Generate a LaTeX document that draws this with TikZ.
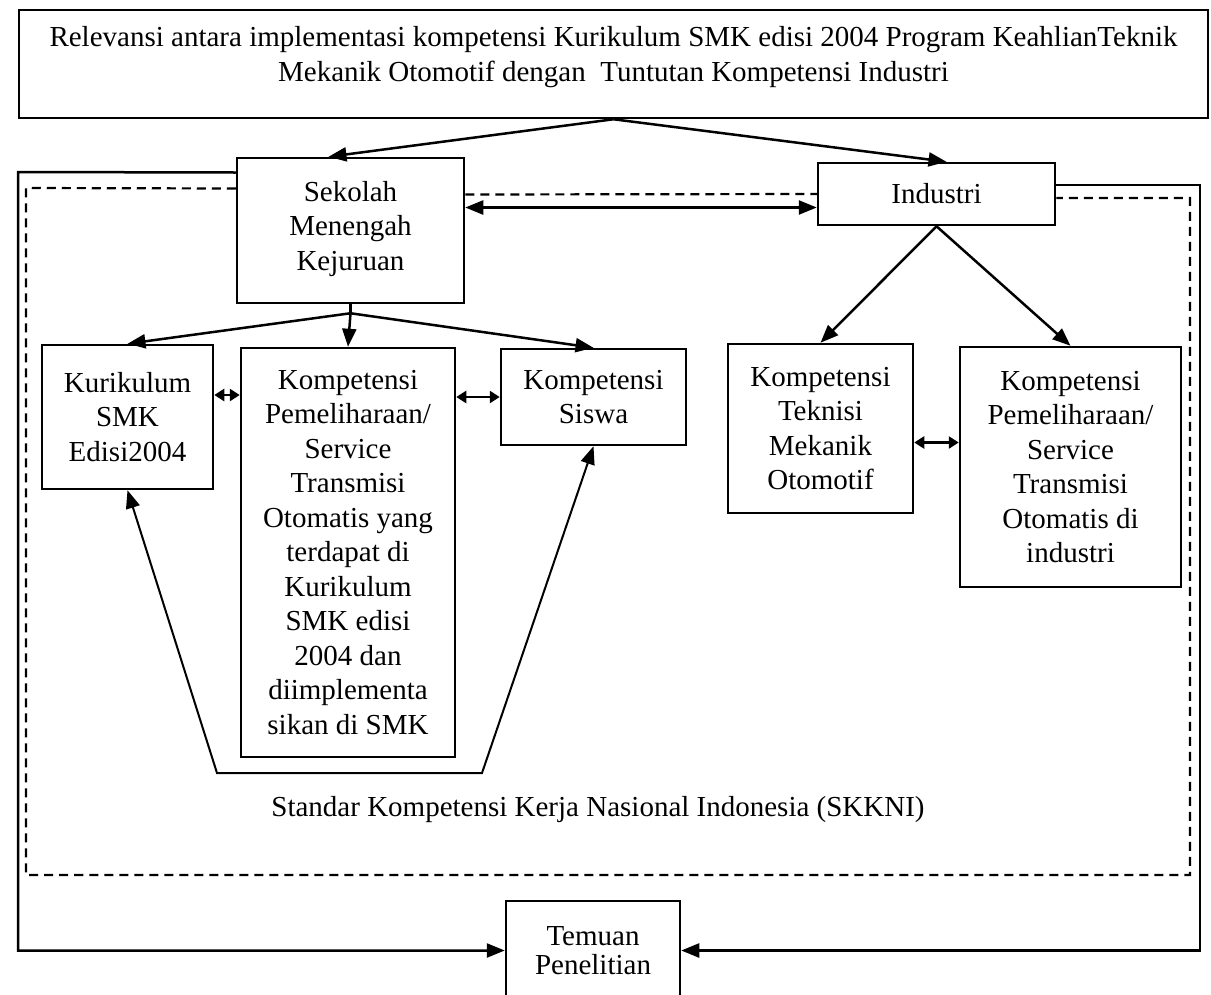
\documentclass[tikz,border=0pt]{standalone}
\usepackage{fontspec}
\setmainfont{Liberation Serif}
\usetikzlibrary{arrows.meta,calc}
\tikzset{
  kotak/.style={draw, line width=2.5pt, align=center, inner sep=0pt,
    font=\fontsize{29}{34.5}\selectfont},
  garis/.style={line width=2.5pt},
  putus/.style={line width=2.2pt, dash pattern=on 9pt off 6pt},
  pendek/.style={line width=2.5pt, {Triangle[length=10pt,width=12pt]}-{Triangle[length=10pt,width=12pt]}},
}

\begin{document}
\begin{tikzpicture}[x=1pt, y=-1pt, >={Triangle[length=18pt,width=14pt]}]
                \useasboundingbox (0,0) rectangle (1211,994);
                % kotak-kotak
                \node[kotak, minimum width=1189pt, minimum height=108pt] (judul) at (613.5,64) {Relevansi antara implementasi kompetensi Kurikulum SMK edisi 2004 Program KeahlianTeknik\\Mekanik Otomotif dengan~ Tuntutan Kompetensi Industri\\[-14pt]\mbox{}};
                \node[kotak, minimum width=227pt, minimum height=145pt] (sekolah) at (350.5,230.5) {Sekolah\\Menengah\\Kejuruan\\[-25pt]\mbox{}};
                \node[kotak, minimum width=237pt, minimum height=62pt] (industri) at (936.5,194) {Industri};
                \node[kotak, minimum width=171pt, minimum height=144pt] (kurikulum) at (127.5,417) {Kurikulum\\SMK\\Edisi2004};
                \node[kotak, minimum width=214pt, minimum height=409pt] (kompsmk) at (348,552.5) {Kompetensi\\Pemeliharaan/\\Service\\Transmisi\\Otomatis yang\\terdapat di\\Kurikulum\\SMK edisi\\2004 dan\\diimplementa\\sikan di SMK};
                \node[kotak, minimum width=185pt, minimum height=96pt] (siswa) at (593.5,397) {Kompetensi\\Siswa};
                \node[kotak, minimum width=185pt, minimum height=169pt] (teknisi) at (820.5,428.5) {Kompetensi\\Teknisi\\Mekanik\\Otomotif};
                \node[kotak, minimum width=221pt, minimum height=240pt] (kompind) at (1070.5,467) {Kompetensi\\Pemeliharaan/\\Service\\Transmisi\\Otomatis di\\industri};
                \node[kotak, minimum width=174pt, minimum height=99pt, font=\fontsize{29}{29}\selectfont] (temuan) at (593,950.5) {Temuan\\Penelitian};
                \node[font=\fontsize{29}{34.5}\selectfont] (skkni) at (598,810) {Standar Kompetensi Kerja Nasional Indonesia (SKKNI)};
                % titik bantu
                \coordinate (kiriatas) at (18,172);
                \coordinate (kiribawah) at (18,950.5);
                \coordinate (kananatas) at (1200,185);
                \coordinate (kananbawah) at (1200,950.5);
                \coordinate (ukiri) at (217,773);
                \coordinate (ukanan) at (482,773);
                \coordinate (cab) at ([yshift=-9pt]sekolah.south);
                \coordinate (sk1) at ([yshift=23pt]sekolah.east);
                \coordinate (k1) at ([yshift=22pt]kurikulum.east);
                \coordinate (t1) at ([yshift=-14pt]teknisi.east);
                % panah
                \draw[garis,->] (judul.south) -- ([xshift=-22pt]sekolah.north);
                \draw[garis,->] (judul.south) -- ([xshift=10pt]industri.north);
                \draw[garis,<->] (sk1) -- (sk1 -| industri.west);
                \draw[garis,->] ([yshift=58pt]sekolah.west) -- (kiriatas) -- (kiribawah) -- (temuan.west);
                \draw[garis,->] ([yshift=9pt]industri.east) -- (kananatas) -- (kananbawah) -- (temuan.east);
                \draw[putus] ([yshift=42pt]sekolah.west) -- (26,188) -- (26,875) -- (1190,875) -- (1190,198) -- ([yshift=-4pt]industri.east);
                \draw[putus] ([yshift=36pt]sekolah.east) -- (industri.west);
                \draw[garis] (sekolah.south) -- (cab);
                \draw[garis,->] (cab) -- (kurikulum.north);
                \draw[garis,->] (cab) -- (kompsmk.north);
                \draw[garis,->] (cab) -- (siswa.north);
                \draw[garis,->] (industri.south) -- (teknisi.north);
                \draw[garis,->] (industri.south) -- (kompind.north);
                \draw[pendek] (k1) -- (k1 -| kompsmk.west);
                \draw[pendek] (siswa.west -| kompsmk.east) -- (siswa.west);
                \draw[pendek] (t1) -- (t1 -| kompind.west);
                \draw[line width=2pt,<->] (kurikulum.south) -- (ukiri) -- (ukanan) -- (siswa.south);
            \end{tikzpicture}
\end{document}
